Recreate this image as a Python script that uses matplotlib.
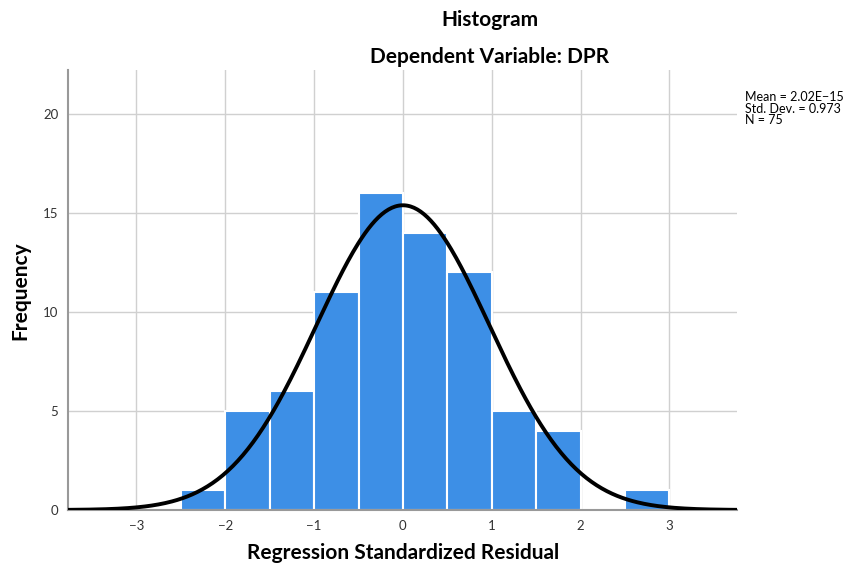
import numpy as np
import matplotlib.pyplot as plt

# histogram of regression standardized residuals (SPSS style)
bin_edges = [-2.5, -2.0, -1.5, -1.0, -0.5, 0.0, 0.5, 1.0, 1.5, 2.0, 2.5, 3.0]
counts = [1, 5, 6, 11, 16, 14, 12, 5, 4, 0, 1]
mean = 2.02e-15
std_dev = 0.973
n_obs = 75

plt.rcParams['font.family'] = ['Lato', 'DejaVu Sans']

fig = plt.figure(figsize=(8.55, 5.67), dpi=100)
ax = fig.add_axes([0.0795, 0.1005, 0.7825, 0.776])

widths = np.diff(bin_edges)
ax.bar(bin_edges[:-1], counts, width=widths, align='edge', color='#3d8fe6',
       edgecolor='white', linewidth=1.5, zorder=2)

# fitted normal curve scaled to counts
x = np.linspace(-3.8, 3.8, 400)
bw = widths[0]
y = n_obs * bw / (std_dev * np.sqrt(2 * np.pi)) * np.exp(-0.5 * ((x - mean) / std_dev) ** 2)
ax.plot(x, y, color='black', linewidth=2.8, zorder=3)

ax.set_xlim(-3.77, 3.76)
ax.set_ylim(0, 22.2)
ax.set_xticks([-3, -2, -1, 0, 1, 2, 3])
ax.set_xticklabels(['\u22123', '\u22122', '\u22121', '0', '1', '2', '3'])
ax.set_yticks([0, 5, 10, 15, 20])
ax.grid(True, color='#d0d0d0', linewidth=1, zorder=0)
ax.set_axisbelow(True)
ax.tick_params(length=0, labelsize=9.5, colors='#333333', pad=7)
for s in ['top', 'right']:
    ax.spines[s].set_visible(False)
for s in ['left', 'bottom']:
    ax.spines[s].set_color('#999999')
    ax.spines[s].set_linewidth(1.5)

fig.text(0.5725, 0.964, 'Histogram', ha='center', va='center', fontsize=15, fontweight='bold')
fig.text(0.5725, 0.899, 'Dependent Variable: DPR', ha='center', va='center', fontsize=15, fontweight='bold')
fig.text(0.471, 0.025, 'Regression Standardized Residual', ha='center', va='center',
         fontsize=15, fontweight='bold')
fig.text(0.024, 0.488, 'Frequency', ha='center', va='center', rotation=90,
         fontsize=15, fontweight='bold')

fig.text(0.871, 0.808, 'Mean = 2.02E\u221215\nStd. Dev. = 0.973\nN = 75',
         fontsize=9, va='center', ha='left', linespacing=0.95)

plt.savefig('out.png', dpi=100)
